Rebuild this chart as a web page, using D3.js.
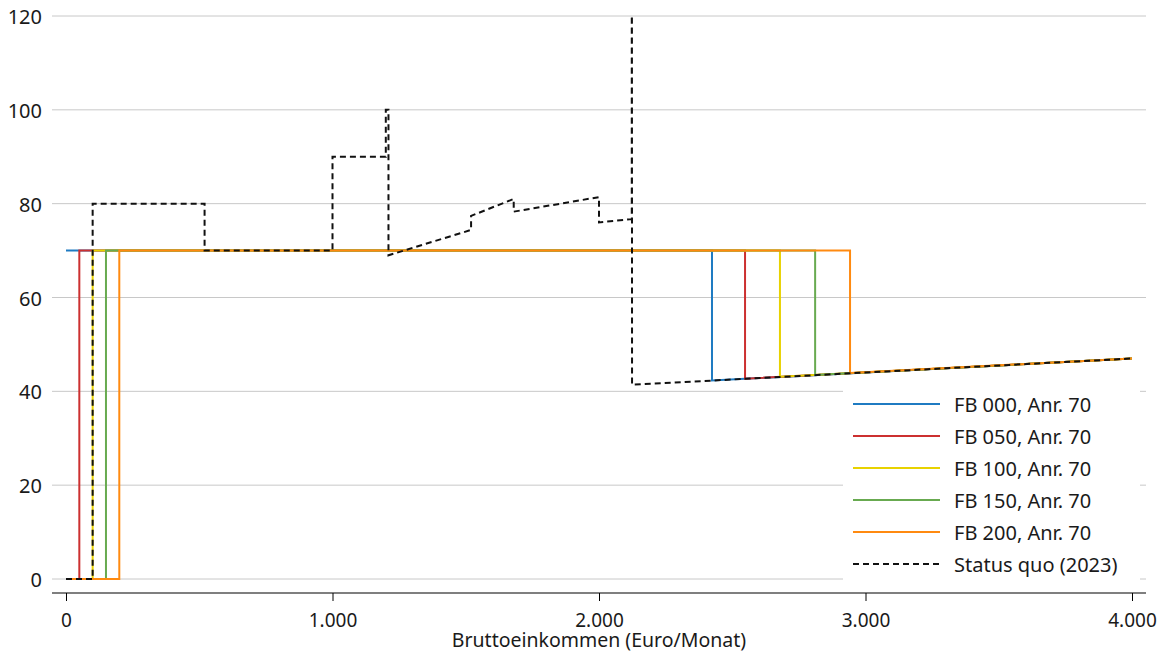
<!DOCTYPE html>
<html><head><meta charset="utf-8">
<script src="https://cdn.jsdelivr.net/npm/d3@7"></script>
<style>
body{margin:0;background:#fff;}
text{font-family:"Noto Sans",sans-serif;fill:#1a1a1a;}
</style></head>
<body><svg id="chart" width="1166" height="653"></svg>
<script>
// ---- data ----
const seriesNames = ["FB 000, Anr. 70","FB 050, Anr. 70","FB 100, Anr. 70","FB 150, Anr. 70","FB 200, Anr. 70","Status quo (2023)"];
const seriesColors = ["#1f7bc2","#cc3030","#e8d200","#68aa50","#ff8a10","#111111"];
const fb000 = [[0,70],[2424,70],[2424,42.3],[4000,47]];
const fb050 = [[0,0],[50,0],[50,70],[2548,70],[2548,42.7],[4000,47]];
const fb100 = [[0,0],[100,0],[100,70],[2679,70],[2679,43.1],[4000,47]];
const fb150 = [[0,0],[150,0],[150,70],[2811,70],[2811,43.5],[4000,47]];
const fb200 = [[0,0],[200,0],[200,70],[2942,70],[2942,43.9],[4000,47]];
const statusQuo = [[0,0],[100,0],[100,80],[520,80],[520,70],[1000,70],[1000,90],[1200,90],[1200,100],[1210,100],[1210,69],[1520,74.4],[1520,77.4],[1680,81],[1680,78.3],[2000,81.4],[2000,76],[2123,76.7],[2123,200],[2124,41.4],[4000,47]];
const xTicks = [0,1000,2000,3000,4000];
const yTicks = [0,20,40,60,80,100,120];
const xTitle = "Bruttoeinkommen (Euro/Monat)";

const allSeries = [fb000,fb050,fb100,fb150,fb200,statusQuo];

// ---- layout ----
const FS = 20;
const svg = d3.select("#chart");
const x = d3.scaleLinear().domain([0,4000]).range([66,1132]);
const y = d3.scaleLinear().domain([0,120]).range([579,16]);
const gridX0 = 52, gridX1 = 1146;

const de = d3.formatLocale({decimal:",",thousands:".",grouping:[3],currency:["","€"]});
const fmt = de.format(",");

// grid
svg.append("g").selectAll("line").data(yTicks).join("line")
  .attr("x1",gridX0).attr("x2",gridX1)
  .attr("y1",d=>y(d)).attr("y2",d=>y(d))
  .attr("stroke","#c8c8c8").attr("stroke-width",1);

// y labels
svg.append("g").selectAll("text").data(yTicks).join("text")
  .attr("x",42).attr("y",d=>y(d)+1).attr("dy","0.35em")
  .attr("text-anchor","end").attr("font-size",FS).text(d=>d);

// x axis
const xAxis = d3.axisBottom(x).tickValues(xTicks).tickFormat(fmt).tickSize(8);
const gx = svg.append("g").attr("transform","translate(0,593)").call(xAxis);
gx.select(".domain").remove();
gx.append("line").attr("x1",gridX0).attr("x2",gridX1).attr("stroke","#000").attr("stroke-width",1.2);
gx.selectAll(".tick line").attr("stroke","#000");
gx.selectAll(".tick text").attr("font-size",19).attr("fill","#1a1a1a")
  .attr("y",34).attr("dy",0)
  .style("font-family",'"Noto Sans",sans-serif');

svg.append("text").attr("x",599).attr("y",647).attr("text-anchor","middle")
  .attr("font-size",19.5).text(xTitle);

// clip
svg.append("clipPath").attr("id","clip").append("rect")
  .attr("x",40).attr("y",y(120)).attr("width",1120).attr("height",y(0)-y(120)+10);

const line = d3.line().x(d=>x(d[0])).y(d=>y(d[1]));
const plot = svg.append("g").attr("clip-path","url(#clip)");
allSeries.forEach((s,i)=>{
  plot.append("path").datum(s).attr("d",line)
    .attr("fill","none").attr("stroke",seriesColors[i])
    .attr("stroke-width",2)
    .attr("stroke-linejoin","miter")
    .attr("stroke-dasharray",i===5?"6,4":null);
});

// legend
const lg = svg.append("g");
lg.append("rect").attr("x",843).attr("y",386).attr("width",297).attr("height",200).attr("fill","#fff");
seriesNames.forEach((n,i)=>{
  const yy = 404 + i*32;
  lg.append("line").attr("x1",853).attr("x2",940).attr("y1",yy).attr("y2",yy)
    .attr("stroke",seriesColors[i]).attr("stroke-width",2)
    .attr("stroke-dasharray",i===5?"6,4":null);
  lg.append("text").attr("x",954).attr("y",yy+1).attr("dy","0.35em")
    .attr("font-size",FS).text(n);
});
</script></body></html>
